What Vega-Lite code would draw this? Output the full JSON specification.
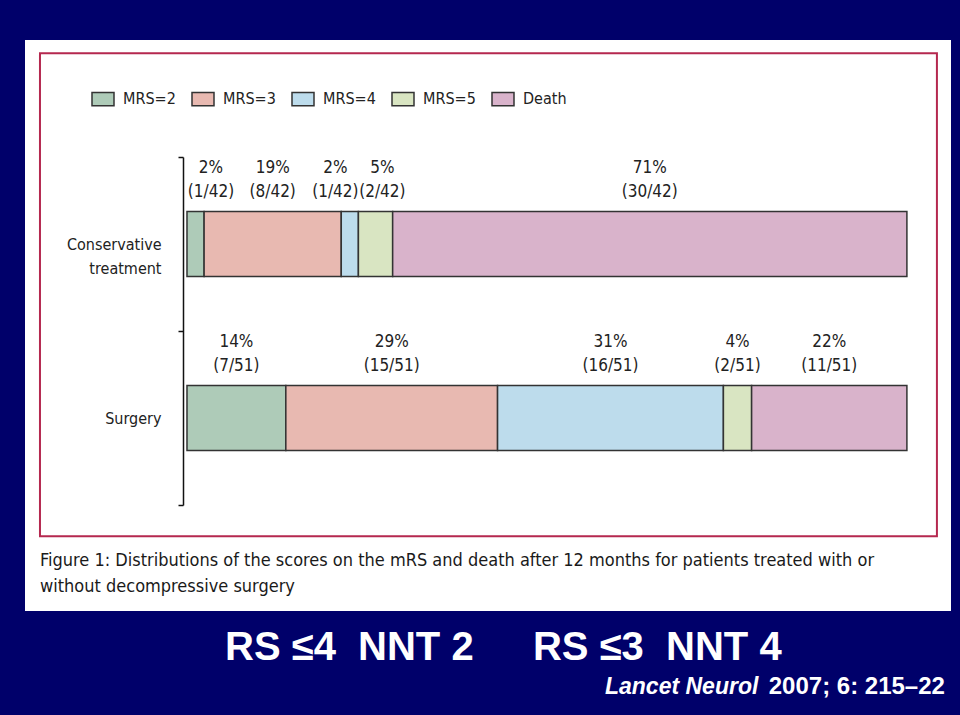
{
  "$schema": "https://vega.github.io/schema/vega-lite/v6.json",
  "width": 926,
  "height": 571,
  "autosize": {"type": "none"},
  "padding": {"left": 25, "top": 40, "right": 9, "bottom": 104},
  "background": "#00006a",
  "config": {"view": {"fill": "white", "stroke": null}, "font": "DejaVu Sans Condensed, Liberation Sans, sans-serif"},
  "data": {"values": [
    {"group": "Conservative treatment", "category": "MRS=2", "mrs": 2, "pct": 2.38, "label": "2%\n(1/42)"},
    {"group": "Conservative treatment", "category": "MRS=3", "mrs": 3, "pct": 19.05, "label": "19%\n(8/42)"},
    {"group": "Conservative treatment", "category": "MRS=4", "mrs": 4, "pct": 2.38, "label": "2%\n(1/42)"},
    {"group": "Conservative treatment", "category": "MRS=5", "mrs": 5, "pct": 4.76, "label": "5%\n(2/42)"},
    {"group": "Conservative treatment", "category": "Death", "mrs": 6, "pct": 71.43, "label": "71%\n(30/42)"},
    {"group": "Surgery", "category": "MRS=2", "mrs": 2, "pct": 13.73, "label": "14%\n(7/51)"},
    {"group": "Surgery", "category": "MRS=3", "mrs": 3, "pct": 29.41, "label": "29%\n(15/51)"},
    {"group": "Surgery", "category": "MRS=4", "mrs": 4, "pct": 31.37, "label": "31%\n(16/51)"},
    {"group": "Surgery", "category": "MRS=5", "mrs": 5, "pct": 3.92, "label": "4%\n(2/51)"},
    {"group": "Surgery", "category": "Death", "mrs": 6, "pct": 21.57, "label": "22%\n(11/51)"}
  ]},
  "layer": [
    {
      "data": {"values": [{}]},
      "layer": [
        {
          "mark": {"type": "rect", "filled": false, "stroke": "#b5284f", "strokeWidth": 2},
          "encoding": {
            "x": {"datum": -20.42, "type": "quantitative", "scale": {"domain": [-22.5, 106.125], "nice": false, "zero": false}, "axis": null},
            "x2": {"datum": 104.17},
            "y": {"datum": 0.977, "type": "quantitative", "scale": {"domain": [0, 1], "nice": false, "zero": false}, "axis": null},
            "y2": {"datum": 0.131}
          }
        },
        {
          "mark": {"type": "text", "text": ["Figure 1: Distributions of the scores on the mRS and death after 12 months for patients treated with or", "without decompressive surgery"], "align": "left", "baseline": "middle", "lineHeight": 26, "fontSize": 18, "color": "#1a1a1a"},
          "encoding": {
            "x": {"datum": -20.42, "type": "quantitative", "scale": {"domain": [-22.5, 106.125], "nice": false, "zero": false}, "axis": null},
            "y": {"datum": 0.0876, "type": "quantitative", "scale": {"domain": [0, 1], "nice": false, "zero": false}, "axis": null}
          }
        },
        {
          "mark": {"type": "text", "text": "RS ≤4\u00a0\u00a0NNT 2", "align": "left", "baseline": "alphabetic", "fontSize": 40, "fontWeight": "bold", "color": "white", "font": "Liberation Sans"},
          "encoding": {
            "x": {"datum": 5.28, "type": "quantitative", "scale": {"domain": [-22.5, 106.125], "nice": false, "zero": false}, "axis": null},
            "y": {"datum": -0.0858, "type": "quantitative", "scale": {"domain": [0, 1], "nice": false, "zero": false}, "axis": null}
          }
        },
        {
          "mark": {"type": "text", "text": "RS ≤3\u00a0\u00a0NNT 4", "align": "left", "baseline": "alphabetic", "fontSize": 40, "fontWeight": "bold", "color": "white", "font": "Liberation Sans"},
          "encoding": {
            "x": {"datum": 48.06, "type": "quantitative", "scale": {"domain": [-22.5, 106.125], "nice": false, "zero": false}, "axis": null},
            "y": {"datum": -0.0858, "type": "quantitative", "scale": {"domain": [0, 1], "nice": false, "zero": false}, "axis": null}
          }
        },
        {
          "mark": {"type": "text", "text": "Lancet Neurol", "align": "left", "baseline": "alphabetic", "fontSize": 23, "fontWeight": "bold", "fontStyle": "italic", "color": "white", "font": "Liberation Sans"},
          "encoding": {
            "x": {"datum": 58.06, "type": "quantitative", "scale": {"domain": [-22.5, 106.125], "nice": false, "zero": false}, "axis": null},
            "y": {"datum": -0.1454, "type": "quantitative", "scale": {"domain": [0, 1], "nice": false, "zero": false}, "axis": null}
          }
        },
        {
          "mark": {"type": "text", "text": "2007; 6: 215–22", "align": "right", "baseline": "alphabetic", "fontSize": 24, "fontWeight": "bold", "color": "white", "font": "Liberation Sans"},
          "encoding": {
            "x": {"datum": 105.28, "type": "quantitative", "scale": {"domain": [-22.5, 106.125], "nice": false, "zero": false}, "axis": null},
            "y": {"datum": -0.1454, "type": "quantitative", "scale": {"domain": [0, 1], "nice": false, "zero": false}, "axis": null}
          }
        }
      ]
    },
    {
      "layer": [
        {
          "mark": {"type": "bar", "stroke": "#333333", "strokeWidth": 1.5, "height": {"band": 0.374}},
          "encoding": {
            "x": {"field": "pct", "type": "quantitative", "stack": "zero", "scale": {"domain": [-22.5, 106.125], "nice": false, "zero": false}, "axis": null},
            "y": {"field": "group", "type": "nominal", "scale": {"domain": ["Conservative treatment", "Surgery"], "range": [117, 465], "paddingInner": 0, "paddingOuter": 0},
                  "axis": {"title": null, "offset": -158, "domainColor": "#111111", "domainWidth": 1.5, "tickColor": "#111111", "tickWidth": 1.5, "tickSize": 5, "tickBand": "extent", "labelExpr": "split(datum.label, ' ')", "labelFontSize": 16, "labelColor": "#222222", "labelPadding": 17, "labelLineHeight": 24}},
            "color": {"field": "category", "type": "nominal",
                      "scale": {"domain": ["MRS=2", "MRS=3", "MRS=4", "MRS=5", "Death"], "range": ["#aecbb8", "#e8b9b1", "#bddcec", "#d9e5c2", "#d9b3cb"]},
                      "legend": {"title": null, "orient": "none", "legendX": 66, "legendY": 47, "direction": "horizontal", "symbolType": "M-1,-0.6L1,-0.6L1,0.6L-1,0.6Z", "symbolSize": 484, "symbolStrokeColor": "#333333", "symbolStrokeWidth": 1.5, "symbolOpacity": 1, "labelFontSize": 16, "labelColor": "#222222", "labelOffset": 8, "columnPadding": 13}},
            "order": {"field": "mrs", "type": "quantitative"}
          }
        },
        {
          "mark": {"type": "text", "baseline": "bottom", "dy": -67, "lineBreak": "\n", "lineHeight": 24, "fontSize": 17, "color": "#222222", "align": "center"},
          "encoding": {
            "x": {"field": "pct", "type": "quantitative", "stack": "zero", "bandPosition": 0.5, "scale": {"domain": [-22.5, 106.125], "nice": false, "zero": false}, "axis": null},
            "y": {"field": "group", "type": "nominal", "scale": {"domain": ["Conservative treatment", "Surgery"], "range": [117, 465], "paddingInner": 0, "paddingOuter": 0},
                  "axis": {"title": null, "offset": -158, "domainColor": "#111111", "domainWidth": 1.5, "tickColor": "#111111", "tickWidth": 1.5, "tickSize": 5, "tickBand": "extent", "labelExpr": "split(datum.label, ' ')", "labelFontSize": 16, "labelColor": "#222222", "labelPadding": 17, "labelLineHeight": 24}},
            "detail": {"field": "category"},
            "order": {"field": "mrs", "type": "quantitative"},
            "text": {"condition": {"test": "datum.group === 'Conservative treatment' && (datum.mrs === 2 || datum.mrs === 4 || datum.mrs === 5)", "value": ""}, "field": "label", "type": "nominal"}
          }
        },
        {
          "mark": {"type": "text", "baseline": "bottom", "dy": -67, "lineBreak": "\n", "lineHeight": 24, "fontSize": 17, "color": "#222222", "align": "center", "dx": 24},
          "encoding": {
            "x": {"field": "pct", "type": "quantitative", "stack": "zero", "bandPosition": 0, "scale": {"domain": [-22.5, 106.125], "nice": false, "zero": false}, "axis": null},
            "y": {"field": "group", "type": "nominal", "scale": {"domain": ["Conservative treatment", "Surgery"], "range": [117, 465], "paddingInner": 0, "paddingOuter": 0},
                  "axis": {"title": null, "offset": -158, "domainColor": "#111111", "domainWidth": 1.5, "tickColor": "#111111", "tickWidth": 1.5, "tickSize": 5, "tickBand": "extent", "labelExpr": "split(datum.label, ' ')", "labelFontSize": 16, "labelColor": "#222222", "labelPadding": 17, "labelLineHeight": 24}},
            "detail": {"field": "category"},
            "order": {"field": "mrs", "type": "quantitative"},
            "text": {"condition": {"test": "datum.group === 'Conservative treatment' && (datum.mrs === 2 || datum.mrs === 5)", "field": "label", "type": "nominal"}, "value": ""}
          }
        },
        {
          "mark": {"type": "text", "baseline": "bottom", "dy": -67, "lineBreak": "\n", "lineHeight": 24, "fontSize": 17, "color": "#222222", "align": "center", "dx": -23},
          "encoding": {
            "x": {"field": "pct", "type": "quantitative", "stack": "zero", "bandPosition": 1, "scale": {"domain": [-22.5, 106.125], "nice": false, "zero": false}, "axis": null},
            "y": {"field": "group", "type": "nominal", "scale": {"domain": ["Conservative treatment", "Surgery"], "range": [117, 465], "paddingInner": 0, "paddingOuter": 0},
                  "axis": {"title": null, "offset": -158, "domainColor": "#111111", "domainWidth": 1.5, "tickColor": "#111111", "tickWidth": 1.5, "tickSize": 5, "tickBand": "extent", "labelExpr": "split(datum.label, ' ')", "labelFontSize": 16, "labelColor": "#222222", "labelPadding": 17, "labelLineHeight": 24}},
            "detail": {"field": "category"},
            "order": {"field": "mrs", "type": "quantitative"},
            "text": {"condition": {"test": "datum.group === 'Conservative treatment' && datum.mrs === 4", "field": "label", "type": "nominal"}, "value": ""}
          }
        }
      ]
    }
  ],
  "resolve": {"scale": {"y": "independent"}}
}
